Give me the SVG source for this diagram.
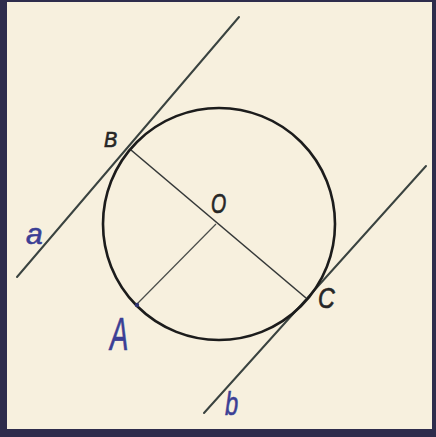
<svg xmlns="http://www.w3.org/2000/svg" width="436" height="437" viewBox="0 0 436 437">
<defs>
<style>
.frame{fill:#2e2c4c}
.paper{fill:#f7f0de}
.tan{stroke:#3a4340;stroke-width:2;fill:none;stroke-linecap:round}
.seg{stroke:#353838;stroke-width:1.6;fill:none}
.thin{stroke:#4a4d4a;stroke-width:1.2;fill:none}
.circ{stroke:#1c1c1c;stroke-width:2.6;fill:none}
.lbl{font-family:"Liberation Sans",Arial,sans-serif;font-style:italic;fill:#262626;stroke:#262626;stroke-width:0.7}
.blue{font-family:"Liberation Sans",Arial,sans-serif;font-style:italic;fill:#3b3f95;stroke:#3b3f95;stroke-width:0.6}
</style>
</defs>
<rect class="frame" x="0" y="0" width="436" height="437"/>
<rect class="paper" x="7" y="2" width="425" height="427"/>
<g id="connectors">
<line id="line-a" class="tan" x1="17" y1="277" x2="239" y2="17"/>
<line id="line-b" class="tan" x1="204" y1="413" x2="426" y2="166"/>
<line id="BC" class="seg" x1="131" y1="150" x2="306" y2="298"/>
<line id="OA" class="thin" x1="216" y1="224" x2="137" y2="304"/>
</g>
<g id="circle">
<circle class="circ" cx="219" cy="224" r="116"/>
</g>
<g id="point-A">
<circle cx="137" cy="305" r="2.2" fill="#2f3470"/>
<text class="blue" transform="translate(110,350) scale(0.6,1)" font-size="46">A</text>
</g>
<g id="point-B"><text class="lbl" transform="translate(104,147) scale(0.9,1)" font-size="22">B</text></g>
<g id="point-O"><text class="lbl" transform="translate(211,213) scale(0.72,1)" font-size="27">O</text></g>
<g id="point-C"><text class="lbl" transform="translate(318,308) scale(0.8,1)" font-size="29">C</text></g>
<g id="label-a"><text class="blue" x="26" y="244" font-size="30">a</text></g>
<g id="label-b"><text class="blue" transform="translate(225,415) scale(0.7,1)" font-size="34">b</text></g>
</svg>
